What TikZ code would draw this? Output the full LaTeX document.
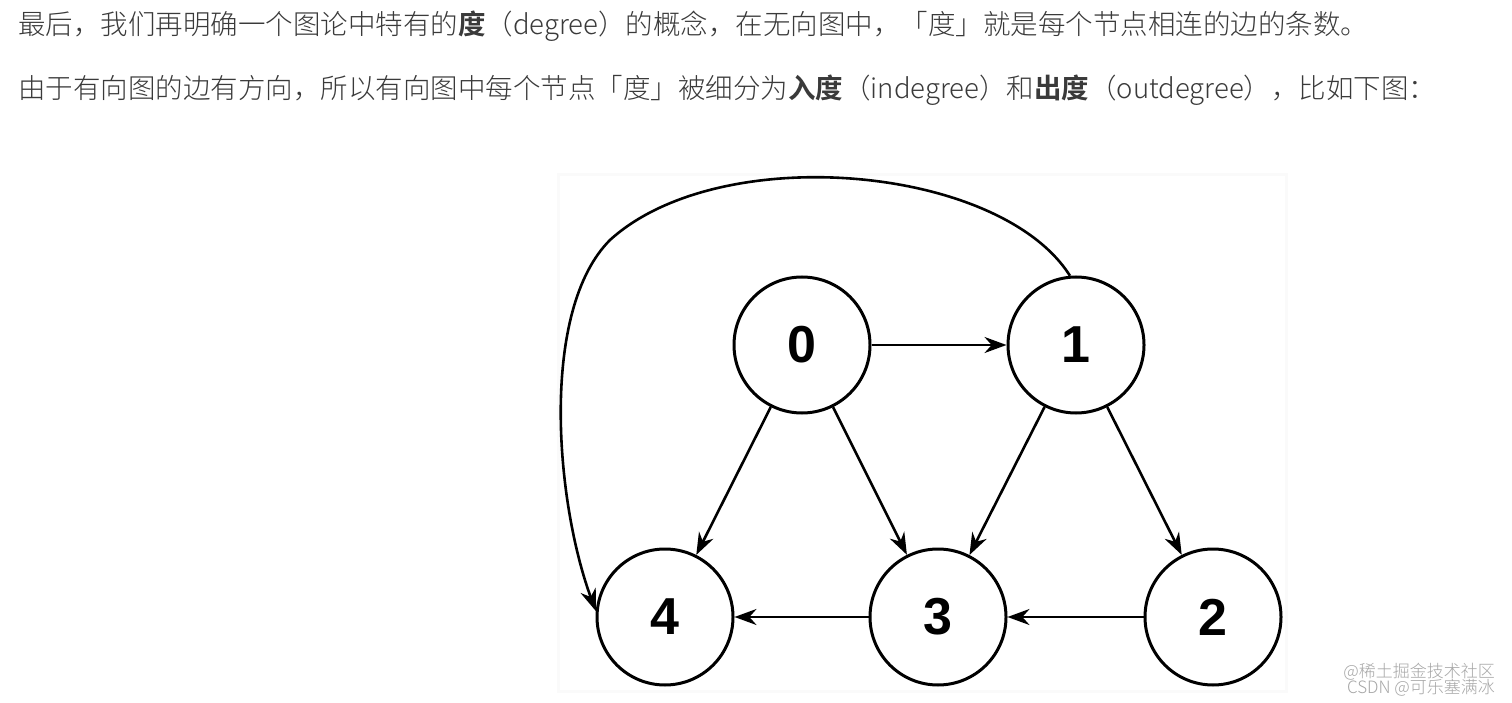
\documentclass[tikz,border=0pt]{standalone}
\usepackage{fontspec}
\setmainfont{Liberation Sans}
\newfontfamily\cjk{Noto Sans CJK SC Light}
\newfontfamily\cjkb{Noto Sans CJK SC Bold}
\usetikzlibrary{arrows.meta}
\definecolor{txt}{HTML}{3A3A3A}
\begin{document}
\begin{tikzpicture}[x=1pt,y=-1pt,
  vtx/.style={circle,draw,line width=3pt,minimum size=136pt,inner sep=0pt,font=\fontsize{52}{52}\selectfont\bfseries},
  edge/.style={line width=2.6pt,-{Stealth[length=22pt,width=16pt]}},
  para/.style={anchor=west,text=txt,font=\cjk\fontsize{27.5}{28}\selectfont,inner sep=0pt}]
\useasboundingbox (0,0) rectangle (1512,703);
\fill[white] (0,0) rectangle (1512,703);
\fill[black!2] (557,173) rectangle (1288,693);
\fill[white] (560,176) rectangle (1285,690);
\node[para] (l1) at (18,26) {最后，我们再明确一个图论中特有的{\cjkb 度}（degree）的概念，在无向图中，「度」就是每个节点相连的边的条数。};
\node[para] (l2) at (18,90) {由于有向图的边有方向，所以有向图中每个节点「度」被细分为{\cjkb 入度}（indegree）和{\cjkb 出度}（outdegree），比如下图：};
\node[vtx] (n0) at (802,345) {0};
\node[vtx] (n1) at (1076,345) {1};
\node[vtx] (n4) at (665,617) {4};
\node[vtx] (n3) at (938,617) {3};
\node[vtx] (n2) at (1213,617) {2};
\draw[edge] (n0) -- (n1);
\draw[edge] (n0) -- (n4);
\draw[edge] (n0) -- (n3);
\draw[edge] (n1) -- (n3);
\draw[edge] (n1) -- (n2);
\draw[edge] (n3) -- (n4);
\draw[edge] (n2) -- (n3);
\draw[edge] (n1.95) .. controls (1000,165) and (720,140) .. (610,240) .. controls (540,310) and (555,500) .. (n4.175);
\node[anchor=east,text=black!35,font=\cjk\fontsize{17}{17}\selectfont,inner sep=0pt,align=right] (wm) at (1495,680) {@稀土掘金技术社区\\[-2pt]CSDN @可乐塞满冰};
\end{tikzpicture}
\end{document}
